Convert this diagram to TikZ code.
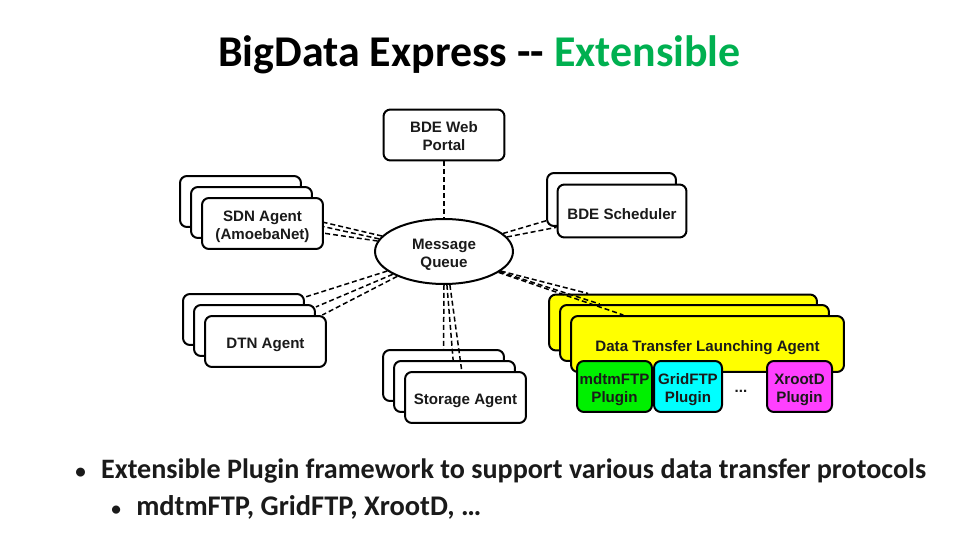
\documentclass[tikz,border=0pt]{standalone}
\usepackage{fontspec}
\setmainfont{Carlito}
\setsansfont{Liberation Sans}
\usetikzlibrary{shapes.geometric}
\definecolor{bdegreen}{HTML}{00B050}
\definecolor{bdeink}{HTML}{1A1A1A}
\definecolor{bdemagenta}{HTML}{FF40FF}
\definecolor{bdecyan}{HTML}{00FFFF}
\definecolor{bdelime}{HTML}{00F000}
\definecolor{bdeyellow}{HTML}{FFFF00}
\begin{document}
\begin{tikzpicture}[x=0.02cm,y=-0.02cm,
  boxtext/.style={align=center,text=bdeink,font=\sffamily\bfseries\fontsize{8.6}{10.2}\selectfont,execute at begin node={\rule{0pt}{10pt}}},
  twolines/.style={execute at begin node={\rule{0pt}{19.6pt}}},
  agent/.style={boxtext,shape=rectangle,draw=black,fill=white,line width=0.04cm,rounded corners=0.14cm,inner sep=0pt,minimum width=2.42cm,minimum height=1.02cm},
  sched/.style={agent,minimum width=2.58cm,minimum height=1.06cm},
  launch/.style={agent,fill=bdeyellow,minimum height=1.12cm},
  plugin/.style={agent,twolines,minimum height=1.02cm},
  link/.style={draw=black,line width=0.03cm,dash pattern=on 0.1cm off 0.06cm},
  item/.style={anchor=west,inner sep=0pt,text=bdeink,font=\bfseries\fontsize{16}{19}\selectfont}]
\useasboundingbox (0,0) rectangle (960,540);
\def\dx{11}
\def\dy{11}

\node[text=black,font=\bfseries\fontsize{25}{29}\selectfont] (title) at (479.5,55) {BigData Express {-}{-} \textcolor{bdegreen}{Extensible}};

\node[boxtext,twolines,shape=ellipse,draw=black,fill=white,line width=0.04cm,inner sep=0pt,minimum width=2.76cm,minimum height=1.3cm] (msg) at (444,251.5) {Message\\Queue};

\node[agent,execute at begin node={\rule{0pt}{17.8pt}}] (portal) at (444,135) {BDE Web\\Portal};
\draw[link] (portal.south) -- (msg.north);

\node[agent] (sdnA) at (240.5,201.5) {};
\node[agent] (sdnB) at (240.5+\dx,201.5+\dy) {};
\node[agent,twolines] (sdnC) at (240.5+2*\dx,201.5+2*\dy) {SDN Agent\\(AmoebaNet)};
\draw[link] (msg.166.6) -- (sdnC.1);
\draw[link] (msg.169) -- (sdnC.-3);
\draw[link] (msg.171.8) -- (sdnC.-9);

\node[agent] (dtnA) at (243.5,319.5) {};
\draw[link] (msg.199.8) -- (dtnA.20);
\node[agent] (dtnB) at (243.5+\dx,319.5+\dy) {};
\draw[link] (msg.204.3) -- (dtnB.21);
\node[agent] (dtnC) at (243.5+2*\dx,319.5+2*\dy) {DTN Agent};
\draw[link] (msg.208.5) -- (dtnC.25);

\node[agent] (stoA) at (443.5,375.5) {};
\draw[link] (msg.270) -- (stoA.90);
\node[agent] (stoB) at (443.5+\dx,375.5+\dy) {};
\draw[link] (msg.275) -- (stoB.93);
\node[agent] (stoC) at (443.5+2*\dx,375.5+2*\dy) {Storage Agent};
\draw[link] (msg.280) -- (stoC.98);

\node[sched] (schA) at (611.5,199.5) {};
\draw[link] (msg.17) -- (schA.198);
\node[sched] (schB) at (622,211) {BDE Scheduler};
\draw[link] (msg.13) -- (schB.194);

\node[launch,minimum width=5.36cm] (dtaA) at (683,322.5) {};
\draw[link] (msg.341.7) -- (dtaA.163.8);
\node[launch,minimum width=5.38cm] (dtaB) at (694.5,333) {};
\draw[link] (msg.340) -- (dtaB.163);
\node[launch,minimum width=5.46cm] (dtaC) at (707.5,344) {Data Transfer Launching Agent};
\draw[link] (msg.339) -- (dtaC.161.2);

\node[plugin,fill=bdelime,minimum width=1.5cm] (mdtm) at (614.5,386.5) {mdtmFTP\\Plugin};
\node[plugin,fill=bdecyan,minimum width=1.36cm] (grid) at (688,386.5) {GridFTP\\Plugin};
\node[plugin,fill=bdemagenta,minimum width=1.3cm] (xroot) at (799.5,386.5) {XrootD\\Plugin};
\node[boxtext] (dots) at (741,384) {...};

\node[item] (itemA) at (75,471.5) {\makebox[14.7pt][l]{\fontsize{12}{12}\selectfont\textbullet}Extensible Plugin framework to support various data transfer protocols};
\node[item,font=\bfseries\fontsize{16.2}{19}\selectfont] (itemB) at (111,507) {\makebox[14.2pt][l]{\fontsize{11}{11}\selectfont\textbullet}mdtmFTP, GridFTP, XrootD, …};
\end{tikzpicture}
\end{document}
